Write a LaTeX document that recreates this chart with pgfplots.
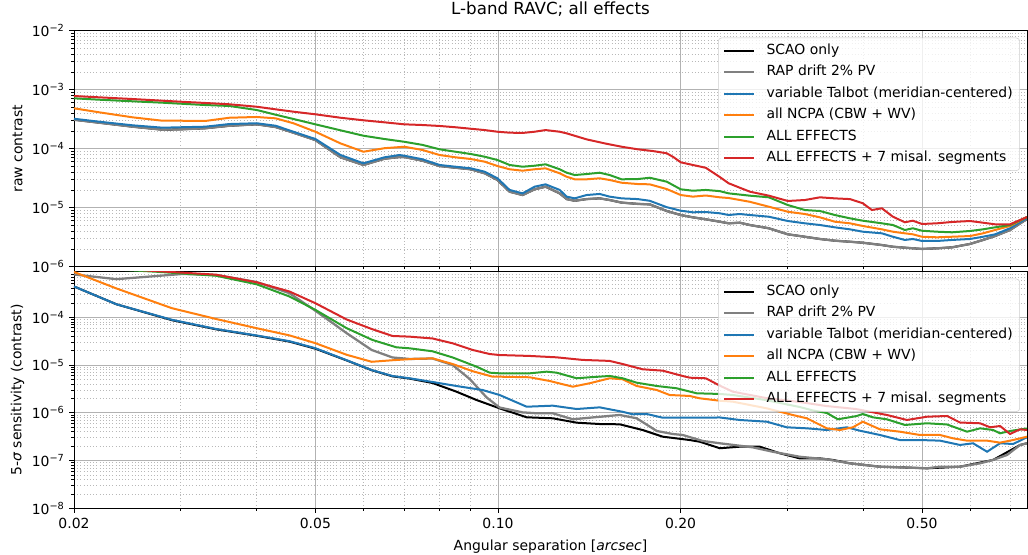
\documentclass[border=0pt]{standalone}
\usepackage{fontspec}
\setmainfont{DejaVu Sans}
\usepackage{pgfplots}
\pgfplotsset{compat=1.18}
\definecolor{tblue}{HTML}{1F77B4}
\definecolor{torange}{HTML}{FF7F0E}
\definecolor{tgreen}{HTML}{2CA02C}
\definecolor{tred}{HTML}{D62728}
\definecolor{tgray}{HTML}{808080}
\newcommand{\fs}{\fontsize{10.45}{12.5}\selectfont}
\begin{document}
\begin{tikzpicture}
\useasboundingbox (-55.5pt,-34.275pt) rectangle (715.5pt,381.225pt);
% ---------------- top panel ----------------
\begin{axis}[at={(0pt,181.2pt)}, anchor=south west,
  scale only axis, width=714.75pt, height=177pt,
  xmode=log, ymode=log,
  xmin=0.02, xmax=0.745,
  xtick={0.02,0.05,0.1,0.2,0.5},
  minor xtick={0.03,0.04,0.06,0.07,0.08,0.09,0.3,0.4,0.6,0.7},
  tick align=outside, tick pos=left,
  major tick length=3.5pt, minor tick length=2pt,
  grid=both,
  major grid style={color=black!30, line width=0.6pt},
  minor grid style={color=black!28, dotted, line width=0.5pt},
  axis line style={line width=0.6pt},
  tick style={black, line width=0.6pt},
  tick label style={font=\fs},
  label style={font=\fs},
  legend cell align=left,
  legend image code/.code={\draw[#1] (0pt,0pt) -- (22.5pt,0pt);},
  legend style={at={(1,1)}, anchor=north east, xshift=-5.25pt, yshift=-5.25pt,
      draw=black!20, fill=white, fill opacity=0.8, draw opacity=1, text opacity=1,
      rounded corners=2.5pt, font=\fs, inner xsep=3.75pt, inner ysep=2.3pt,
      row sep=1.7pt, column sep=6.75pt,
      nodes={inner xsep=1.5pt, inner ysep=2.2pt, text height=7.7pt, text depth=2.3pt}},
  ymin=1e-6, ymax=1e-2,
  ytick={1e-6,1e-5,1e-4,1e-3,1e-2},
  yticklabels={10\textsuperscript{−6},10\textsuperscript{−5},10\textsuperscript{−4},10\textsuperscript{−3},10\textsuperscript{−2}},
  minor ytick={2e-6,3e-6,4e-6,5e-6,6e-6,7e-6,8e-6,9e-6,2e-5,3e-5,4e-5,5e-5,6e-5,7e-5,8e-5,9e-5,2e-4,3e-4,4e-4,5e-4,6e-4,7e-4,8e-4,9e-4,2e-3,3e-3,4e-3,5e-3,6e-3,7e-3,8e-3,9e-3},
  xticklabels={},
  ylabel={raw contrast},
  ylabel style={at={(axis description cs:-0.0593,0.5)}, anchor=center},
  title={L-band RAVC; all effects},
  title style={at={(axis description cs:0.5,1)}, anchor=base, yshift=6.5pt, font=\fontsize{12.5}{15}\selectfont},
]
\addplot[black, line width=1.5pt] coordinates {(0.0200,3.10e-4) (0.0220,2.76e-4) (0.0250,2.36e-4) (0.0280,2.10e-4) (0.0300,2.13e-4) (0.0329,2.22e-4) (0.0361,2.45e-4) (0.0400,2.59e-4) (0.0430,2.33e-4) (0.0460,1.87e-4) (0.0500,1.40e-4) (0.0550,7.15e-5) (0.0600,5.30e-5) (0.0650,6.77e-5) (0.0688,7.23e-5) (0.0701,7.23e-5) (0.0751,6.26e-5) (0.0801,5.09e-5) (0.0851,4.76e-5) (0.0902,4.48e-5) (0.0951,3.83e-5) (0.0998,2.95e-5) (0.1045,1.87e-5) (0.1098,1.64e-5) (0.1149,2.05e-5) (0.1198,2.27e-5) (0.1264,1.75e-5) (0.1298,1.40e-5) (0.1338,1.31e-5) (0.1400,1.40e-5) (0.1471,1.44e-5) (0.1528,1.35e-5) (0.1599,1.22e-5) (0.1700,1.16e-5) (0.1779,1.14e-5) (0.1898,8.79e-6) (0.2001,7.52e-6) (0.2095,6.87e-6) (0.2201,6.36e-6) (0.2321,5.79e-6) (0.2401,5.44e-6) (0.2504,5.57e-6) (0.2601,5.09e-6) (0.2796,4.48e-6) (0.3005,3.54e-6) (0.3205,3.22e-6) (0.3394,2.95e-6) (0.3592,2.76e-6) (0.3804,2.65e-6) (0.3995,2.55e-6) (0.4294,2.33e-6) (0.4477,2.18e-6) (0.4686,2.10e-6) (0.5000,2.00e-6) (0.5294,2.05e-6) (0.5604,2.13e-6) (0.6001,2.43e-6) (0.6305,2.84e-6) (0.6600,3.31e-6) (0.6986,4.19e-6) (0.745,6.43e-6)};
\addlegendentry{SCAO only}
\addplot[tgray, line width=1.7pt] coordinates {(0.0200,3.10e-4) (0.0220,2.76e-4) (0.0250,2.36e-4) (0.0280,2.10e-4) (0.0300,2.13e-4) (0.0329,2.22e-4) (0.0361,2.45e-4) (0.0400,2.59e-4) (0.0430,2.33e-4) (0.0460,1.87e-4) (0.0500,1.40e-4) (0.0550,7.15e-5) (0.0600,5.30e-5) (0.0650,6.77e-5) (0.0688,7.23e-5) (0.0701,7.23e-5) (0.0751,6.26e-5) (0.0801,5.09e-5) (0.0851,4.76e-5) (0.0902,4.48e-5) (0.0951,3.83e-5) (0.0998,2.95e-5) (0.1045,1.87e-5) (0.1098,1.64e-5) (0.1149,2.05e-5) (0.1198,2.27e-5) (0.1264,1.75e-5) (0.1298,1.40e-5) (0.1338,1.31e-5) (0.1400,1.40e-5) (0.1471,1.44e-5) (0.1528,1.35e-5) (0.1599,1.22e-5) (0.1700,1.16e-5) (0.1779,1.14e-5) (0.1898,8.79e-6) (0.2001,7.52e-6) (0.2095,6.87e-6) (0.2201,6.36e-6) (0.2321,5.79e-6) (0.2401,5.44e-6) (0.2504,5.57e-6) (0.2601,5.09e-6) (0.2796,4.48e-6) (0.3005,3.54e-6) (0.3205,3.22e-6) (0.3394,2.95e-6) (0.3592,2.76e-6) (0.3804,2.65e-6) (0.3995,2.55e-6) (0.4294,2.33e-6) (0.4477,2.18e-6) (0.4686,2.10e-6) (0.5000,2.00e-6) (0.5294,2.05e-6) (0.5604,2.13e-6) (0.6001,2.43e-6) (0.6305,2.84e-6) (0.6600,3.31e-6) (0.6986,4.19e-6) (0.745,6.43e-6)};
\addlegendentry{RAP drift 2\% PV}
\addplot[tblue, line width=1.5pt] coordinates {(0.0200,3.22e-4) (0.0220,2.87e-4) (0.0250,2.49e-4) (0.0280,2.27e-4) (0.0300,2.31e-4) (0.0329,2.36e-4) (0.0361,2.62e-4) (0.0400,2.70e-4) (0.0430,2.45e-4) (0.0460,1.94e-4) (0.0500,1.46e-4) (0.0550,7.82e-5) (0.0600,5.66e-5) (0.0650,7.15e-5) (0.0688,7.82e-5) (0.0701,7.61e-5) (0.0751,6.61e-5) (0.0801,5.30e-5) (0.0851,4.95e-5) (0.0902,4.65e-5) (0.0951,4.07e-5) (0.0998,3.15e-5) (0.1045,2.00e-5) (0.1098,1.75e-5) (0.1149,2.27e-5) (0.1198,2.49e-5) (0.1264,2.00e-5) (0.1298,1.54e-5) (0.1338,1.44e-5) (0.1400,1.64e-5) (0.1471,1.71e-5) (0.1528,1.54e-5) (0.1599,1.44e-5) (0.1700,1.40e-5) (0.1779,1.31e-5) (0.1898,1.02e-5) (0.2001,8.89e-6) (0.2095,8.36e-6) (0.2201,8.45e-6) (0.2321,8.04e-6) (0.2401,7.52e-6) (0.2504,7.82e-6) (0.2601,7.52e-6) (0.2796,7.04e-6) (0.3005,5.95e-6) (0.3205,5.44e-6) (0.3394,5.09e-6) (0.3592,4.65e-6) (0.3804,4.30e-6) (0.3995,3.92e-6) (0.4294,3.68e-6) (0.4477,3.22e-6) (0.4686,2.84e-6) (0.4830,2.95e-6) (0.5000,2.73e-6) (0.5294,2.73e-6) (0.5604,2.84e-6) (0.6001,2.95e-6) (0.6305,3.22e-6) (0.6600,3.54e-6) (0.6986,4.48e-6) (0.745,6.69e-6)};
\addlegendentry{variable Talbot (meridian-centered)}
\addplot[torange, line width=1.5pt] coordinates {(0.0200,4.84e-4) (0.0220,4.14e-4) (0.0250,3.40e-4) (0.0280,2.98e-4) (0.0300,2.98e-4) (0.0329,2.95e-4) (0.0361,3.35e-4) (0.0400,3.45e-4) (0.0430,3.27e-4) (0.0460,2.70e-4) (0.0500,1.94e-4) (0.0550,1.23e-4) (0.0600,8.89e-5) (0.0650,1.02e-4) (0.0701,1.08e-4) (0.0751,9.51e-5) (0.0801,7.82e-5) (0.0851,7.15e-5) (0.0902,6.69e-5) (0.0951,6.02e-5) (0.0998,5.09e-5) (0.1045,4.48e-5) (0.1098,4.24e-5) (0.1149,4.48e-5) (0.1198,4.65e-5) (0.1264,3.83e-5) (0.1298,3.35e-5) (0.1338,3.03e-5) (0.1400,3.03e-5) (0.1471,3.15e-5) (0.1528,2.95e-5) (0.1599,2.65e-5) (0.1700,2.52e-5) (0.1779,2.49e-5) (0.1898,2.07e-5) (0.2001,1.64e-5) (0.2095,1.54e-5) (0.2201,1.61e-5) (0.2321,1.50e-5) (0.2401,1.46e-5) (0.2601,1.26e-5) (0.2796,1.04e-5) (0.3005,8.55e-6) (0.3205,7.82e-6) (0.3394,6.87e-6) (0.3592,5.79e-6) (0.3804,5.44e-6) (0.3995,4.90e-6) (0.4294,4.30e-6) (0.4477,3.92e-6) (0.4686,3.68e-6) (0.4830,3.54e-6) (0.5000,3.22e-6) (0.5294,3.15e-6) (0.5604,3.22e-6) (0.6001,3.31e-6) (0.6305,3.68e-6) (0.6600,4.19e-6) (0.6986,4.90e-6) (0.745,6.95e-6)};
\addlegendentry{all NCPA (CBW + WV)}
\addplot[tgreen, line width=1.5pt] coordinates {(0.0200,7.15e-4) (0.0220,6.77e-4) (0.0250,6.36e-4) (0.0280,6.02e-4) (0.0300,5.79e-4) (0.0329,5.50e-4) (0.0361,5.30e-4) (0.0400,4.53e-4) (0.0430,3.77e-4) (0.0460,3.19e-4) (0.0500,2.59e-4) (0.0550,2.05e-4) (0.0600,1.66e-4) (0.0650,1.46e-4) (0.0701,1.31e-4) (0.0751,1.16e-4) (0.0801,9.77e-5) (0.0851,8.89e-5) (0.0902,8.13e-5) (0.0951,7.31e-5) (0.0998,6.43e-5) (0.1045,5.30e-5) (0.1098,4.95e-5) (0.1149,5.15e-5) (0.1198,5.44e-5) (0.1264,4.48e-5) (0.1298,3.92e-5) (0.1338,3.58e-5) (0.1400,3.72e-5) (0.1471,3.92e-5) (0.1528,3.58e-5) (0.1599,3.03e-5) (0.1700,3.06e-5) (0.1779,3.22e-5) (0.1898,2.76e-5) (0.2001,2.05e-5) (0.2095,1.94e-5) (0.2201,2.00e-5) (0.2321,1.91e-5) (0.2401,1.75e-5) (0.2601,1.60e-5) (0.2796,1.50e-5) (0.3005,1.11e-5) (0.3205,9.14e-6) (0.3394,8.79e-6) (0.3592,7.52e-6) (0.3804,6.61e-6) (0.3995,6.02e-6) (0.4294,5.44e-6) (0.4477,5.09e-6) (0.4686,4.19e-6) (0.4830,4.48e-6) (0.5000,4.07e-6) (0.5294,3.92e-6) (0.5604,3.83e-6) (0.6001,4.03e-6) (0.6305,4.30e-6) (0.6600,4.65e-6) (0.6986,5.09e-6) (0.745,6.95e-6)};
\addlegendentry{ALL EFFECTS}
\addplot[tred, line width=1.5pt] coordinates {(0.0200,7.82e-4) (0.0220,7.43e-4) (0.0250,6.95e-4) (0.0280,6.51e-4) (0.0300,6.26e-4) (0.0329,5.96e-4) (0.0361,5.66e-4) (0.0400,5.15e-4) (0.0430,4.65e-4) (0.0460,4.24e-4) (0.0500,3.83e-4) (0.0550,3.35e-4) (0.0600,3.03e-4) (0.0650,2.80e-4) (0.0701,2.59e-4) (0.0751,2.52e-4) (0.0801,2.43e-4) (0.0851,2.31e-4) (0.0902,2.18e-4) (0.0951,2.07e-4) (0.0998,1.94e-4) (0.1045,1.87e-4) (0.1098,1.85e-4) (0.1149,1.94e-4) (0.1198,2.07e-4) (0.1264,1.94e-4) (0.1298,1.82e-4) (0.1400,1.44e-4) (0.1500,1.23e-4) (0.1599,1.08e-4) (0.1700,9.77e-5) (0.1799,9.14e-5) (0.1898,8.36e-5) (0.1949,7.15e-5) (0.2001,5.88e-5) (0.2095,5.30e-5) (0.2201,4.75e-5) (0.2321,3.31e-5) (0.2401,2.59e-5) (0.2601,1.87e-5) (0.2796,1.60e-5) (0.3005,1.30e-5) (0.3205,1.35e-5) (0.3394,1.50e-5) (0.3592,1.44e-5) (0.3804,1.40e-5) (0.3995,1.19e-5) (0.4134,9.14e-6) (0.4294,9.77e-6) (0.4477,7.04e-6) (0.4686,5.66e-6) (0.4830,6.02e-6) (0.5000,5.30e-6) (0.5294,5.44e-6) (0.5604,5.73e-6) (0.6001,5.95e-6) (0.6305,5.57e-6) (0.6600,5.23e-6) (0.6986,5.23e-6) (0.745,6.95e-6)};
\addlegendentry{ALL EFFECTS + 7 misal. segments}
\end{axis}
% ---------------- bottom panel ----------------
\begin{axis}[at={(0pt,0pt)}, anchor=south west,
  scale only axis, width=714.75pt, height=177.45pt,
  xmode=log, ymode=log,
  xmin=0.02, xmax=0.745,
  xtick={0.02,0.05,0.1,0.2,0.5},
  minor xtick={0.03,0.04,0.06,0.07,0.08,0.09,0.3,0.4,0.6,0.7},
  tick align=outside, tick pos=left,
  major tick length=3.5pt, minor tick length=2pt,
  grid=both,
  major grid style={color=black!30, line width=0.6pt},
  minor grid style={color=black!28, dotted, line width=0.5pt},
  axis line style={line width=0.6pt},
  tick style={black, line width=0.6pt},
  tick label style={font=\fs},
  label style={font=\fs},
  legend cell align=left,
  legend image code/.code={\draw[#1] (0pt,0pt) -- (22.5pt,0pt);},
  legend style={at={(1,1)}, anchor=north east, xshift=-5.25pt, yshift=-5.25pt,
      draw=black!20, fill=white, fill opacity=0.8, draw opacity=1, text opacity=1,
      rounded corners=2.5pt, font=\fs, inner xsep=3.75pt, inner ysep=2.3pt,
      row sep=1.7pt, column sep=6.75pt,
      nodes={inner xsep=1.5pt, inner ysep=2.2pt, text height=7.7pt, text depth=2.3pt}},
  ymin=1e-8, ymax=9e-4,
  ytick={1e-8,1e-7,1e-6,1e-5,1e-4},
  yticklabels={10\textsuperscript{−8},10\textsuperscript{−7},10\textsuperscript{−6},10\textsuperscript{−5},10\textsuperscript{−4}},
  minor ytick={2e-8,3e-8,4e-8,5e-8,6e-8,7e-8,8e-8,9e-8,2e-7,3e-7,4e-7,5e-7,6e-7,7e-7,8e-7,9e-7,2e-6,3e-6,4e-6,5e-6,6e-6,7e-6,8e-6,9e-6,2e-5,3e-5,4e-5,5e-5,6e-5,7e-5,8e-5,9e-5,2e-4,3e-4,4e-4,5e-4,6e-4,7e-4,8e-4},
  xticklabels={0.02,0.05,0.10,0.20,0.50},
  xlabel={Angular separation [\textit{arcsec}]},
  xlabel style={at={(axis description cs:0.5,0)}, anchor=base, yshift=-31.3pt},
  ylabel={5-\textit{σ} sensitivity (contrast)},
  ylabel style={at={(axis description cs:-0.0593,0.5)}, anchor=center},
]
\addplot[black, line width=1.5pt] coordinates {(0.0200,4.42e-4) (0.0235,1.87e-4) (0.0290,8.7e-5) (0.0343,5.6e-5) (0.0400,4.1e-5) (0.0453,3.1e-5) (0.0500,2.2e-5) (0.0563,1.25e-5) (0.0619,7.8e-6) (0.0670,5.8e-6) (0.0715,5.2e-6) (0.0780,4.21e-6) (0.0854,2.77e-6) (0.0922,1.85e-6) (0.1006,1.24e-6) (0.1115,8.05e-7) (0.1231,7.67e-7) (0.1348,6.21e-7) (0.1471,5.82e-7) (0.1587,5.74e-7) (0.1732,4.36e-7) (0.1869,3.16e-7) (0.2071,2.69e-7) (0.2151,2.48e-7) (0.2321,1.81e-7) (0.2504,1.95e-7) (0.2702,1.95e-7) (0.2915,1.42e-7) (0.3145,1.11e-7) (0.3394,1.11e-7) (0.3565,1.03e-7) (0.3804,8.75e-8) (0.4262,7.43e-8) (0.4598,7.22e-8) (0.5097,6.88e-8) (0.5777,7.43e-8) (0.6550,1.03e-7) (0.7257,2.12e-7) (0.745,2.30e-7)};
\addlegendentry{SCAO only}
\addplot[tgray, line width=1.7pt] coordinates {(0.0200,7.87e-4) (0.0235,6.28e-4) (0.0302,8.07e-4) (0.0343,7.69e-4) (0.0400,5.48e-4) (0.0453,3.20e-4) (0.0500,1.37e-4) (0.0563,4.65e-5) (0.0619,2.07e-5) (0.0670,1.44e-5) (0.0715,1.34e-5) (0.0780,1.37e-5) (0.0842,1.00e-5) (0.0898,5.11e-6) (0.0958,2.09e-6) (0.1006,1.29e-6) (0.1098,1.02e-6) (0.1158,9.77e-7) (0.1231,9.77e-7) (0.1328,7.31e-7) (0.1416,7.89e-7) (0.1587,9.0e-7) (0.1693,7.67e-7) (0.1827,4.16e-7) (0.1941,3.60e-7) (0.2016,3.43e-7) (0.2176,2.57e-7) (0.2321,2.30e-7) (0.2631,1.89e-7) (0.2838,1.53e-7) (0.3145,1.20e-7) (0.3485,1.06e-7) (0.3804,8.75e-8) (0.4262,7.43e-8) (0.4598,7.22e-8) (0.5097,6.88e-8) (0.5354,7.43e-8) (0.5777,7.43e-8) (0.6233,8.75e-8) (0.6550,1.03e-7) (0.6907,1.31e-7) (0.7257,2.12e-7) (0.745,2.30e-7)};
\addlegendentry{RAP drift 2\% PV}
\addplot[tblue, line width=1.5pt] coordinates {(0.0200,4.42e-4) (0.0235,1.87e-4) (0.0290,8.87e-5) (0.0343,5.69e-5) (0.0400,4.16e-5) (0.0453,3.16e-5) (0.0500,2.25e-5) (0.0563,1.26e-5) (0.0619,7.87e-6) (0.0670,5.90e-6) (0.0715,5.28e-6) (0.0780,4.42e-6) (0.0854,3.64e-6) (0.0943,3.00e-6) (0.1006,2.36e-6) (0.1115,1.34e-6) (0.1231,1.41e-6) (0.1348,1.20e-6) (0.1471,1.30e-6) (0.1605,1.05e-6) (0.1668,9.31e-7) (0.1759,9.44e-7) (0.1869,7.89e-7) (0.2071,7.89e-7) (0.2321,7.98e-7) (0.2504,7.07e-7) (0.2774,6.51e-7) (0.2992,4.97e-7) (0.3230,4.73e-7) (0.3485,4.36e-7) (0.3760,4.97e-7) (0.3950,4.22e-7) (0.4262,3.43e-7) (0.4598,2.69e-7) (0.4962,2.69e-7) (0.5354,2.61e-7) (0.5777,2.12e-7) (0.6070,2.30e-7) (0.6402,1.53e-7) (0.6726,2.30e-7) (0.7067,2.22e-7) (0.745,3.07e-7)};
\addlegendentry{variable Talbot (meridian-centered)}
\addplot[torange, line width=1.5pt] coordinates {(0.0200,8.9e-4) (0.0235,4.01e-4) (0.0290,1.55e-4) (0.0343,9.21e-5) (0.0400,5.91e-5) (0.0453,4.18e-5) (0.0500,2.87e-5) (0.0563,1.64e-5) (0.0619,1.17e-5) (0.0670,1.26e-5) (0.0723,1.34e-5) (0.0780,1.38e-5) (0.0842,1.05e-5) (0.0908,7.43e-6) (0.0980,5.70e-6) (0.1006,5.70e-6) (0.1128,5.54e-6) (0.1217,4.63e-6) (0.1328,3.52e-6) (0.1416,4.15e-6) (0.1528,5.28e-6) (0.1605,5.03e-6) (0.1693,3.64e-6) (0.1827,3.00e-6) (0.1919,2.36e-6) (0.2071,2.25e-6) (0.2151,2.01e-6) (0.2321,1.79e-6) (0.2438,1.71e-6) (0.2774,1.24e-6) (0.3061,9.0e-7) (0.3230,7.67e-7) (0.3485,4.73e-7) (0.3662,4.36e-7) (0.3847,4.97e-7) (0.3995,6.51e-7) (0.4262,4.51e-7) (0.4598,4.02e-7) (0.4962,3.43e-7) (0.5354,3.43e-7) (0.5626,2.92e-7) (0.5934,2.61e-7) (0.6402,2.61e-7) (0.6726,2.37e-7) (0.7067,2.69e-7) (0.745,3.16e-7)};
\addlegendentry{all NCPA (CBW + WV)}
\addplot[tgreen, line width=1.5pt] coordinates {(0.0200,1.1e-3) (0.0235,1.0e-3) (0.0273,9.0e-4) (0.0343,7.40e-4) (0.0400,4.91e-4) (0.0453,2.73e-4) (0.0500,1.43e-4) (0.0563,5.91e-5) (0.0621,3.35e-5) (0.0680,2.35e-5) (0.0715,2.24e-5) (0.0780,1.94e-5) (0.0842,1.44e-5) (0.0922,9.23e-6) (0.0969,6.92e-6) (0.1006,6.71e-6) (0.1128,6.71e-6) (0.1203,7.26e-6) (0.1249,6.92e-6) (0.1348,5.28e-6) (0.1416,5.54e-6) (0.1528,5.90e-6) (0.1605,5.28e-6) (0.1693,4.27e-6) (0.1827,3.64e-6) (0.1971,3.26e-6) (0.2127,2.56e-6) (0.2321,2.48e-6) (0.2438,2.36e-6) (0.2764,1.85e-6) (0.3145,1.32e-6) (0.3304,1.12e-6) (0.3485,9.9e-7) (0.3634,7.31e-7) (0.3905,8.57e-7) (0.3995,9.44e-7) (0.4149,8.04e-7) (0.4376,7.31e-7) (0.4686,5.56e-7) (0.5097,6.03e-7) (0.5499,5.69e-7) (0.5934,4.02e-7) (0.6233,4.73e-7) (0.6550,4.36e-7) (0.6726,3.72e-7) (0.6986,4.16e-7) (0.7257,4.47e-7) (0.745,4.69e-7)};
\addlegendentry{ALL EFFECTS}
\addplot[tred, line width=1.5pt] coordinates {(0.0200,1.2e-3) (0.0235,1.05e-3) (0.0276,9.2e-4) (0.0343,7.8e-4) (0.0400,5.41e-4) (0.0453,3.47e-4) (0.0500,1.97e-4) (0.0563,8.99e-5) (0.0619,5.69e-5) (0.0670,4.06e-5) (0.0715,3.93e-5) (0.0780,3.60e-5) (0.0842,2.85e-5) (0.0908,2.07e-5) (0.0969,1.70e-5) (0.1006,1.62e-5) (0.1128,1.55e-5) (0.1249,1.45e-5) (0.1379,1.28e-5) (0.1528,1.22e-5) (0.1605,1.05e-5) (0.1732,8.15e-6) (0.1869,7.62e-6) (0.2016,5.90e-6) (0.2071,5.43e-6) (0.2201,5.28e-6) (0.2321,3.7e-6) (0.2438,2.77e-6) (0.2764,2.04e-6) (0.3145,1.68e-6) (0.3472,1.39e-6) (0.3891,1.20e-6) (0.4376,9.0e-7) (0.4721,7.07e-7) (0.5097,8.28e-7) (0.5499,8.57e-7) (0.5777,6.26e-7) (0.6233,6.03e-7) (0.6475,4.97e-7) (0.6726,5.29e-7) (0.6986,3.60e-7) (0.7257,4.51e-7) (0.745,4.36e-7)};
\addlegendentry{ALL EFFECTS + 7 misal. segments}
\end{axis}
\end{tikzpicture}
\end{document}
